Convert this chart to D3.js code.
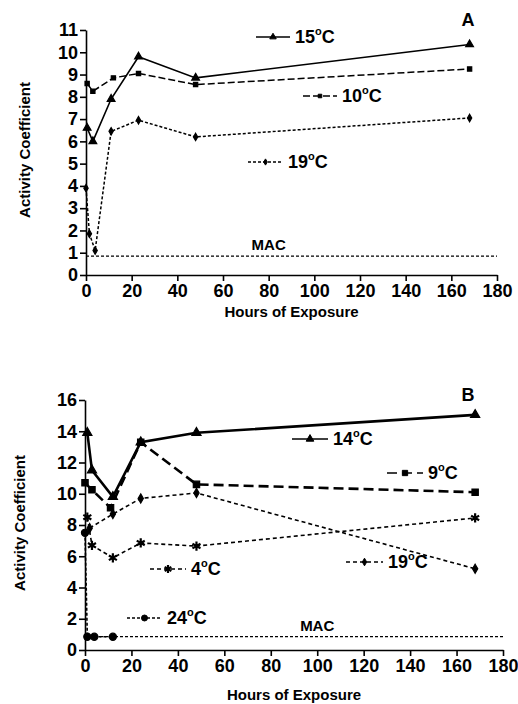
<!DOCTYPE html>
<html>
<head>
<meta charset="utf-8">
<script src="https://cdn.jsdelivr.net/npm/d3@7"></script>
<style>
  body { margin: 0; background: #fff; }
  svg { font-family: 'Liberation Sans', Arial, sans-serif; font-weight: bold; }
  .tick text { font-size: 18px; font-weight: bold; fill: #000; }
  .domain, .tick line { stroke: #000; stroke-width: 1.6px; }
</style>
</head>
<body>
<div class="chart"></div>
<script>
// hours of exposure and activity coefficients, panel A
const hoursA15 = [0.5, 3, 11, 23, 48, 168];
const valsA15 = [6.6, 6.0, 7.9, 9.8, 8.85, 10.35];
const hoursA10 = [0.5, 3, 12, 23, 48, 168];
const valsA10 = [8.6, 8.25, 8.85, 9.05, 8.55, 9.25];
const hoursA19 = [0, 1.5, 4, 11, 23, 48, 168];
const valsA19 = [3.9, 1.85, 1.1, 6.45, 6.95, 6.2, 7.05];

// panel B
const hoursB14 = [1, 3, 12, 24, 48, 168];
const valsB14 = [13.9, 11.5, 9.8, 13.3, 13.9, 15.05];
const hoursB9 = [0, 3, 11, 24, 48, 168];
const valsB9 = [10.7, 10.25, 9.1, 13.3, 10.6, 10.1];
const hoursB19 = [2, 12, 24, 48, 168];
const valsB19 = [7.8, 8.7, 9.7, 10.05, 5.2];
const hoursB4 = [1, 3, 12, 24, 48, 168];
const valsB4 = [8.5, 6.7, 5.9, 6.85, 6.65, 8.45];
const hoursB24 = [0, 1, 4, 12];
const valsB24 = [7.5, 0.85, 0.85, 0.85];

const macValue = 0.85;
const xTicks = [0, 20, 40, 60, 80, 100, 120, 140, 160, 180];
const yTicksA = d3.range(0, 12);
const yTicksB = [0, 2, 4, 6, 8, 10, 12, 14, 16];

const zip = (h, v) => h.map((d, i) => ({ h: d, v: v[i] }));

const svg = d3.select('.chart').append('svg')
  .attr('width', 518)
  .attr('height', 704);

function degLabel(g, x, y, num) {
  const t = g.append('text')
    .attr('x', x).attr('y', y)
    .attr('dy', '0.36em')
    .style('font-size', '18px');
  t.append('tspan').text(num);
  t.append('tspan').text('o').style('font-size', '11px').attr('dy', -8);
  t.append('tspan').text('C').attr('dy', 8);
}

function drawPanel(p) {
  const x = d3.scaleLinear().domain([0, 180]).range(p.xr);
  const y = d3.scaleLinear().domain(p.yd).range(p.yr);
  const g = svg.append('g');

  g.append('g')
    .attr('transform', `translate(0, ${p.yr[0]})`)
    .call(d3.axisBottom(x).tickValues(xTicks).tickSize(6).tickPadding(3).tickSizeOuter(0));

  g.append('g')
    .attr('transform', `translate(${p.xr[0]}, 0)`)
    .call(d3.axisLeft(y).tickValues(p.yTicks).tickSize(6).tickPadding(2).tickSizeOuter(0));

  // MAC line
  g.append('line')
    .attr('x1', x(0)).attr('x2', x(180))
    .attr('y1', y(macValue)).attr('y2', y(macValue))
    .attr('stroke', '#000').attr('stroke-width', 1.3)
    .attr('stroke-dasharray', '3,2');
  g.append('text')
    .attr('x', x(p.macAt)).attr('y', y(macValue) - 6)
    .attr('text-anchor', 'middle')
    .style('font-size', '15px')
    .text('MAC');

  const line = d3.line().x(d => x(d.h)).y(d => y(d.v));

  p.series.forEach((s) => {
    const pts = zip(s.hours, s.vals);
    g.append('path')
      .datum(pts)
      .attr('fill', 'none')
      .attr('stroke', '#000')
      .attr('stroke-width', s.width)
      .attr('stroke-dasharray', s.dash)
      .attr('d', line);

    const sym = d3.symbol().type(s.symbol).size(s.size);
    g.selectAll(null)
      .data(pts)
      .enter().append('path')
      .attr('transform', d => `translate(${x(d.h)}, ${y(d.v)})`)
      .attr('d', sym)
      .attr('fill', '#000')
      .attr('stroke', '#000')
      .attr('stroke-width', s.symbol === asterisk ? 2.2 : 1.2);

    // legend
    const lg = s.legend;
    g.append('line')
      .attr('x1', lg[0]).attr('x2', lg[1])
      .attr('y1', lg[2]).attr('y2', lg[2])
      .attr('stroke', '#000').attr('stroke-width', 1.5)
      .attr('stroke-dasharray', s.dash);
    g.append('path')
      .attr('transform', `translate(${(lg[0] + lg[1]) / 2}, ${lg[2]})`)
      .attr('d', d3.symbol().type(s.symbol).size(s.size * 0.7))
      .attr('fill', '#000')
      .attr('stroke', '#000')
      .attr('stroke-width', s.symbol === asterisk ? 2.2 : 1);
    degLabel(g, lg[1] + 5, lg[2], s.name);
  });

  g.append('text')
    .attr('x', p.label[0]).attr('y', p.label[1])
    .attr('dy', '0.36em')
    .attr('text-anchor', 'middle')
    .style('font-size', '18px')
    .text(p.id);

  g.append('text')
    .attr('x', (p.xr[0] + p.xr[1]) / 2)
    .attr('y', p.xTitleY)
    .attr('text-anchor', 'middle')
    .style('font-size', '15px')
    .text('Hours of Exposure');

  g.append('text')
    .attr('transform', `translate(${p.yTitle[0]}, ${p.yTitle[1]}) rotate(-90)`)
    .attr('text-anchor', 'middle')
    .attr('dy', '0.36em')
    .style('font-size', '15px')
    .text('Activity Coefficient');
}

const asterisk = d3.symbolAsterisk || d3.symbolCross;

drawPanel({
  id: 'A',
  xr: [86, 497], yr: [275, 30], yd: [0, 11], yTicks: yTicksA,
  macAt: 80, label: [468, 20], xTitleY: 317, yTitle: [25, 150],
  series: [
    { name: '15', hours: hoursA15, vals: valsA15, width: 1.6, dash: null,
      symbol: d3.symbolTriangle, size: 26, legend: [256, 290, 37] },
    { name: '10', hours: hoursA10, vals: valsA10, width: 1.5, dash: '7,3',
      symbol: d3.symbolSquare, size: 18, legend: [303, 337, 96] },
    { name: '19', hours: hoursA19, vals: valsA19, width: 1.5, dash: '3,2',
      symbol: d3.symbolDiamond, size: 16, legend: [248, 283, 162] }
  ]
});

drawPanel({
  id: 'B',
  xr: [85, 503], yr: [650, 400], yd: [0, 16], yTicks: yTicksB,
  macAt: 100, label: [468, 395], xTitleY: 700, yTitle: [20, 523],
  series: [
    { name: '14', hours: hoursB14, vals: valsB14, width: 2.6, dash: null,
      symbol: d3.symbolTriangle, size: 36, legend: [292, 328, 439] },
    { name: '9', hours: hoursB9, vals: valsB9, width: 2.6, dash: '10,5',
      symbol: d3.symbolSquare, size: 40, legend: [387, 423, 473] },
    { name: '19', hours: hoursB19, vals: valsB19, width: 1.6, dash: '4,3',
      symbol: d3.symbolDiamond, size: 24, legend: [346, 383, 562] },
    { name: '4', hours: hoursB4, vals: valsB4, width: 1.6, dash: '4,3',
      symbol: asterisk, size: 60, legend: [150, 186, 569] },
    { name: '24', hours: hoursB24, vals: valsB24, width: 1.6, dash: '3,2',
      symbol: d3.symbolCircle, size: 40, legend: [127, 162, 618] }
  ]
});
</script>
</body>
</html>
